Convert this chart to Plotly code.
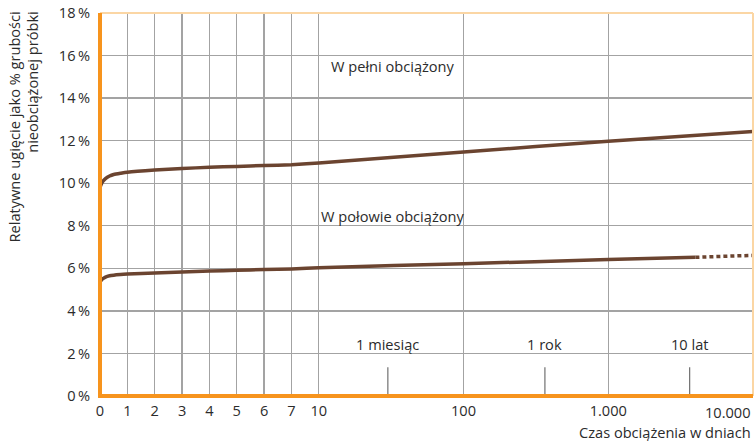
import math
import plotly.graph_objects as go

# ---------------- data ----------------
days_full = [0, 0.05, 0.1, 0.2, 0.35, 0.5, 0.75, 1, 2, 3, 4, 5, 6, 7, 10, 100, 1000, 10000]
full_load = [9.8, 9.96, 10.08, 10.22, 10.34, 10.41, 10.47, 10.52, 10.62, 10.69, 10.75, 10.79, 10.83, 10.87, 10.95, 11.47, 11.97, 12.43]

days_half = [0, 0.05, 0.1, 0.2, 0.35, 0.5, 0.75, 1, 2, 3, 4, 5, 6, 7, 10, 100, 1000, 4000]
half_load = [5.35, 5.44, 5.51, 5.59, 5.65, 5.68, 5.71, 5.73, 5.78, 5.83, 5.87, 5.91, 5.94, 5.97, 6.03, 6.22, 6.41, 6.52]

days_half_ext = [4000, 10000]
half_load_ext = [6.52, 6.61]

tick_days = [0, 1, 2, 3, 4, 5, 6, 7, 10, 100, 1000, 10000]
tick_text = ["0", "1", "2", "3", "4", "5", "6", "7", "10", "100", "1.000", ""]
y_ticks = [0, 2, 4, 6, 8, 10, 12, 14, 16, 18]
y_text = [f"{v}\u2009%" for v in y_ticks]

period_days = [30, 365, 3650]
period_labels = ["1 miesiąc", "1 rok", "10 lat"]

label_full = "W pełni obciążony"
label_half = "W połowie obciążony"
x_title = "Czas obciążenia w dniach"
y_title = "Relatywne ugięcie jako % grubości<br>nieobciążonej próbki"

# ---------------- custom x scale ----------------
DEC = 5.292  # width of one decade, in units of one day of the linear part


def T(d):
    if d <= 7:
        return d
    if d <= 10:
        return 7 + (d - 7) / 3
    return 8 + math.log10(d / 10) * DEC


XMAX = T(10000)

FONT = "'Open Sans', sans-serif"
FS = 14.6
TXT = "#2b2b2b"
ORANGE = "#f7941d"
LIGHT_ORANGE = "#fbd6a4"
BROWN = "#6b4430"
GRID = "#a3a3a3"

fig = go.Figure()
fig.add_trace(go.Scatter(x=[T(d) for d in days_full], y=full_load, mode="lines",
                         line=dict(color=BROWN, width=3.5, shape="spline", smoothing=0.6),
                         hoverinfo="skip", showlegend=False))
fig.add_trace(go.Scatter(x=[T(d) for d in days_half], y=half_load, mode="lines",
                         line=dict(color=BROWN, width=3.5, shape="spline", smoothing=0.6),
                         hoverinfo="skip", showlegend=False))
fig.add_trace(go.Scatter(x=[T(d) for d in days_half_ext], y=half_load_ext, mode="lines",
                         line=dict(color=BROWN, width=3.5, dash="4px,3px"),
                         hoverinfo="skip", showlegend=False))

W, H = 755, 441
L, R, TOP, B = 100, 2, 11, 45
pw = W - L - R


def px_to_paper_x(px):
    return (px - L) / pw


shapes = []
shapes.append(dict(type="line", xref="paper", yref="paper", x0=0, x1=1, y0=1, y1=1,
                   line=dict(color=LIGHT_ORANGE, width=2), layer="above"))
shapes.append(dict(type="line", xref="paper", yref="paper", x0=1, x1=1, y0=0, y1=1,
                   line=dict(color=LIGHT_ORANGE, width=2), layer="above"))
shapes.append(dict(type="line", xref="paper", yref="paper", x0=0, x1=0, y0=-0.004, y1=1,
                   line=dict(color=ORANGE, width=4), layer="above"))
shapes.append(dict(type="line", xref="paper", yref="paper", x0=-0.003, x1=1, y0=0, y1=0,
                   line=dict(color=ORANGE, width=4), layer="above"))
for d in period_days:
    shapes.append(dict(type="line", xref="x", yref="y", x0=T(d), x1=T(d), y0=0, y1=1.35,
                       line=dict(color="#707070", width=1.2), layer="below"))

annotations = []
for d, lab in zip(period_days, period_labels):
    annotations.append(dict(x=T(d), y=2.45, xref="x", yref="y", text=lab, showarrow=False,
                            xanchor="center", yanchor="middle",
                            font=dict(family=FONT, size=FS, color=TXT)))
annotations.append(dict(x=T(11.8), y=15.5, xref="x", yref="y", text=label_full, showarrow=False,
                        xanchor="left", yanchor="middle", font=dict(family=FONT, size=FS, color=TXT)))
annotations.append(dict(x=T(10), y=8.45, xref="x", yref="y", text=label_half, showarrow=False,
                        xanchor="left", yanchor="middle", font=dict(family=FONT, size=FS, color=TXT)))
annotations.append(dict(x=1, y=0, xref="paper", yref="paper", text="10.000", showarrow=False,
                        xanchor="right", yanchor="top", yshift=-4,
                        font=dict(family=FONT, size=FS, color=TXT)))
annotations.append(dict(x=1, y=0, xref="paper", yref="paper", text=x_title, showarrow=False,
                        xanchor="right", yanchor="top", yshift=-24,
                        font=dict(family=FONT, size=FS, color=TXT)))
annotations.append(dict(x=px_to_paper_x(23), y=1, xref="paper", yref="paper", text=y_title,
                        showarrow=False, textangle=-90, align="right",
                        xanchor="center", yanchor="top", yshift=3,
                        font=dict(family=FONT, size=FS, color=TXT)))

fig.update_layout(
    width=W, height=H,
    margin=dict(l=L, r=R, t=TOP, b=B),
    paper_bgcolor="white", plot_bgcolor="white",
    showlegend=False,
    shapes=shapes, annotations=annotations,
    xaxis=dict(range=[0, XMAX], tickmode="array", tickvals=[T(d) for d in tick_days],
               ticktext=tick_text, showgrid=True, gridcolor=GRID, gridwidth=1.3,
               zeroline=False, showline=False, ticks="", ticklabelstandoff=4,
               ticklabeloverflow="allow",
               tickfont=dict(family=FONT, size=FS, color=TXT), fixedrange=True),
    yaxis=dict(range=[0, 18], tickmode="array", tickvals=y_ticks, ticktext=y_text,
               showgrid=True, gridcolor=GRID, gridwidth=1.3, zeroline=False, showline=False,
               ticks="", ticklabelstandoff=9, ticklabeloverflow="allow",
               tickfont=dict(family=FONT, size=FS, color=TXT), fixedrange=True),
)

fig.write_html("out.html", config={"displayModeBar": False, "staticPlot": True},
               post_script="document.body.style.margin='0';document.body.style.overflow='hidden';")
